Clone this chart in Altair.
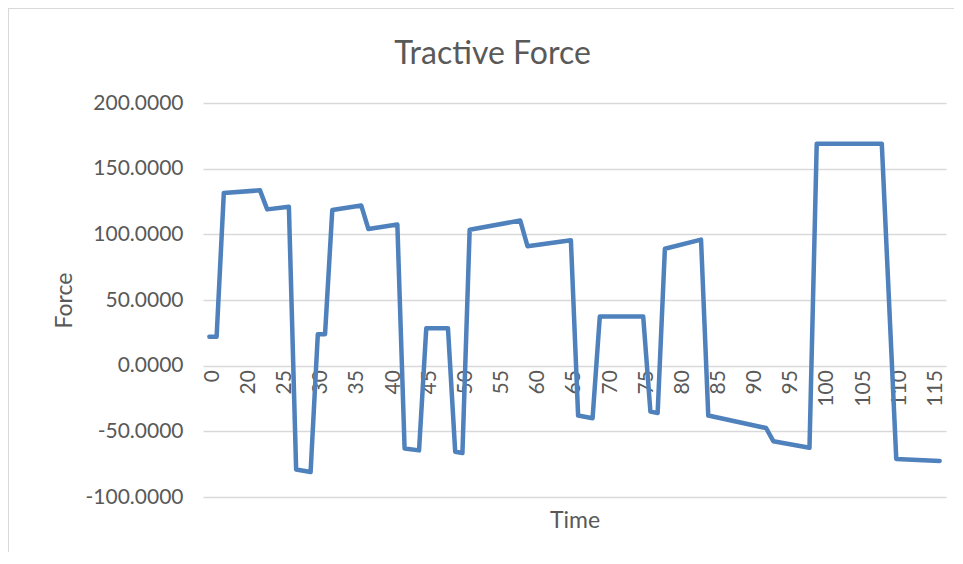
import altair as alt
import pandas as pd

# Category labels of the x axis (Excel-style category axis)
time_labels = [0, 16, 17, 18, 19, 20, 21, 22, 23, 24, 25, 26, 27, 28, 29, 30,
               31, 32, 33, 34, 35, 36, 37, 38, 39, 40, 41, 42, 43, 44, 45, 46,
               47, 48, 49, 50, 51, 52, 53, 54, 55, 56, 57, 58, 59, 60, 61, 62,
               63, 64, 65, 66, 67, 68, 69, 70, 71, 72, 73, 74, 75, 76, 77, 78,
               79, 80, 81, 82, 83, 84, 85, 86, 87, 88, 89, 90, 91, 92, 93, 94,
               95, 96, 97, 98, 99, 100, 101, 102, 103, 104, 105, 106, 107, 108,
               109, 110, 111, 112, 113, 114, 115, 116]
shown_labels = [0, 20, 25, 30, 35, 40, 45, 50, 55, 60, 65, 70, 75, 80, 85, 90,
                95, 100, 105, 110, 115]
y_ticks = [-100, -50, 0, 50, 100, 150, 200]

# Line vertices (time category, tractive force)
time = [0, 16, 17, 22, 23, 26, 27, 29, 30, 31, 32, 36, 37, 41, 42, 44, 45, 48,
        49, 50, 51, 58, 59, 65, 66, 68, 69, 75, 76, 77, 78, 83, 84, 92, 93, 98,
        99, 108, 110, 116]
force = [22, 22, 131.5, 133.5, 119, 121, -79, -81, 24, 24, 118.5, 122, 104,
         107.5, -63, -64.5, 28.5, 28.5, -65.5, -66.5, 103.5, 110.5, 91, 95.5,
         -38, -40, 37.5, 37.5, -35, -36, 89, 96, -38, -47.5, -57.5, -62.5,
         169, 169, -71, -72.5]

df = pd.DataFrame({"time": time, "force": force})

W, H = 743, 394
GREY = "#595959"
FONT = "Lato"
zero_y = H * 200 / 300

line = alt.Chart(df).mark_line(
    color="#4F81BD", strokeWidth=4.5, strokeJoin="round", strokeCap="round"
).encode(
    x=alt.X("time:O",
            scale=alt.Scale(domain=time_labels, padding=0.88),
            axis=alt.Axis(values=shown_labels, labelAngle=270, labelFont=FONT,
                          labelFontSize=21, labelColor=GREY, ticks=False,
                          tickSize=0, domain=False, grid=False, labelPadding=4,
                          labelOffset=3,
                          offset=-(H - zero_y), title="Time", titleFont=FONT,
                          titleFontSize=23, titleColor=GREY,
                          titleFontWeight="normal", titleY=162,
                          titleBaseline="alphabetic")),
    y=alt.Y("force:Q",
            scale=alt.Scale(domain=[-100, 200], nice=False, zero=False),
            axis=alt.Axis(values=y_ticks,
                          labelExpr="replace(format(datum.value, '.4f'), '\u2212', '-')",
                          labelFont=FONT,
                          labelFontSize=21, labelColor=GREY, labelPadding=20,
                          ticks=False, tickSize=0, domain=False, grid=True,
                          gridColor="#D9D9D9", gridWidth=1.3, title="Force",
                          titleFont=FONT, titleFontSize=23, titleColor=GREY,
                          titleFontWeight="normal", titleAngle=270,
                          titleX=-132, titleY=H / 2, titleAlign="center",
                          titleBaseline="alphabetic")),
)

frame_src = pd.DataFrame({"k": [0]})
left_border = alt.Chart(frame_src).mark_rule(color="#D9D9D9", strokeWidth=1).encode(
    x=alt.value(-194.5), y=alt.value(-95), y2=alt.value(H + 60))
top_border = alt.Chart(frame_src).mark_rule(color="#D9D9D9", strokeWidth=1).encode(
    x=alt.value(-195), x2=alt.value(W + 10), y=alt.value(-94.5))

chart = alt.layer(line, left_border, top_border).properties(
    width=W, height=H,
    title=alt.TitleParams("Tractive Force", font=FONT, fontSize=32, color=GREY,
                          fontWeight="normal", anchor="middle", frame="group",
                          dx=-82, offset=-88, baseline="alphabetic"),
    padding={"left": 195, "top": 95, "right": 8, "bottom": 55},
    autosize=alt.AutoSizeParams(type="none"),
).configure_view(stroke=None)

chart.save("out.html", embed_options={"renderer": "svg", "actions": False})
